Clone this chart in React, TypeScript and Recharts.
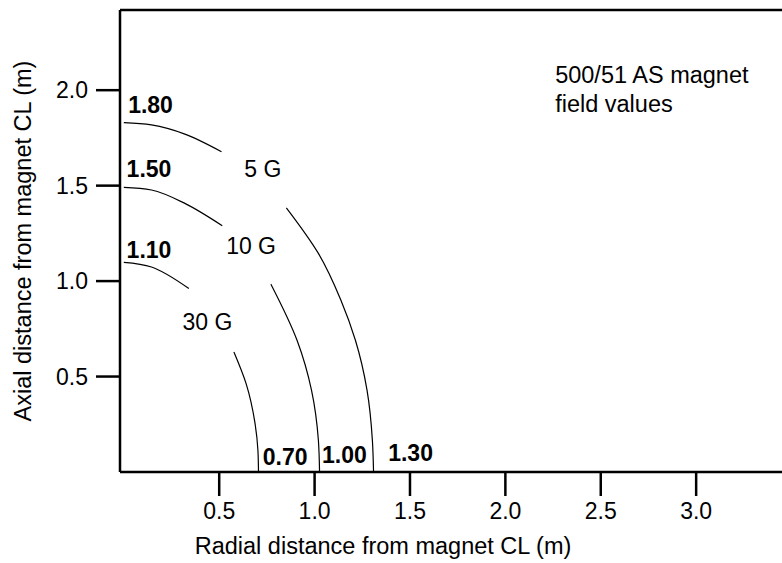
import { LineChart, Line, XAxis, YAxis, ReferenceDot, ReferenceLine } from "recharts";

// contour segments (x = radial m, y = axial m)
const g5Upper = [
  { x: 0, y: 1.83 },
  { x: 0.145, y: 1.818 },
  { x: 0.32, y: 1.77 },
  { x: 0.512, y: 1.678 },
];
const g5Lower = [
  { x: 0.852, y: 1.384 },
  { x: 1.02, y: 1.145 },
  { x: 1.138, y: 0.9 },
  { x: 1.214, y: 0.69 },
  { x: 1.275, y: 0.428 },
  { x: 1.303, y: 0.165 },
  { x: 1.309, y: 0 },
];
const g10Upper = [
  { x: 0, y: 1.491 },
  { x: 0.145, y: 1.477 },
  { x: 0.32, y: 1.407 },
  { x: 0.516, y: 1.29 },
];
const g10Lower = [
  { x: 0.771, y: 0.984 },
  { x: 0.908, y: 0.69 },
  { x: 0.984, y: 0.428 },
  { x: 1.02, y: 0.165 },
  { x: 1.026, y: 0 },
];
const g30Upper = [
  { x: 0, y: 1.098 },
  { x: 0.145, y: 1.074 },
  { x: 0.341, y: 0.961 },
];
const g30Lower = [
  { x: 0.577, y: 0.629 },
  { x: 0.641, y: 0.463 },
  { x: 0.688, y: 0.253 },
  { x: 0.703, y: 0.113 },
  { x: 0.706, y: 0 },
];

const upperSegments = [g5Upper, g10Upper, g30Upper];
const lowerSegments = [g5Lower, g10Lower, g30Lower];

const xTicks = [0.5, 1.0, 1.5, 2.0, 2.5, 3.0];
const yTicks = [0.5, 1.0, 1.5, 2.0];

// bold distance labels and field labels
const valueLabels = [
  { x: 0.14, y: 1.923, text: "1.80" },
  { x: 0.132, y: 1.589, text: "1.50" },
  { x: 0.132, y: 1.162, text: "1.10" },
  { x: 0.846, y: 0.08, text: "0.70" },
  { x: 1.156, y: 0.088, text: "1.00" },
  { x: 1.503, y: 0.1, text: "1.30" },
];
const fieldLabels = [
  { x: 0.729, y: 1.587, text: "5 G" },
  { x: 0.667, y: 1.187, text: "10 G" },
  { x: 0.438, y: 0.784, text: "30 G" },
];
const noteLines = [
  { x: 2.261, y: 2.079, text: "500/51 AS magnet" },
  { x: 2.261, y: 1.927, text: "field values" },
];

const Y_MAX = 2.42;
const font = "'Liberation Sans', Arial, Helvetica, sans-serif";
const axisStroke = { stroke: "#000", strokeWidth: 2.5 };

export default function App() {
  return (
    <div style={{ position: "absolute", left: 0, top: 0, fontFamily: font, background: "#fff" }}>
      <LineChart width={782} height={563} margin={{ top: 10, right: 0, bottom: 0, left: 0 }}>
        <XAxis
          type="number"
          dataKey="x"
          domain={[-0.02, 3.45]}
          ticks={xTicks}
          tickFormatter={(v) => Number(v).toFixed(1)}
          height={91}
          axisLine={axisStroke}
          tickLine={axisStroke}
          tickSize={24}
          tickMargin={7}
          tick={{ fill: "#000", fontSize: 23 }}
          label={{
            value: "Radial distance from magnet CL (m)",
            position: "insideBottom",
            offset: 9,
            dx: -68,
            fill: "#000",
            fontSize: 23.5,
          }}
        />
        <YAxis
          type="number"
          dataKey="y"
          domain={[0, Y_MAX]}
          ticks={yTicks}
          tickFormatter={(v) => Number(v).toFixed(1)}
          width={120}
          axisLine={axisStroke}
          tickLine={axisStroke}
          tickSize={24}
          tickMargin={8}
          tick={{ fill: "#000", fontSize: 23 }}
          label={{
            value: "Axial distance from magnet CL (m)",
            angle: -90,
            position: "insideLeft",
            offset: 23,
            fill: "#000",
            fontSize: 23.5,
            style: { textAnchor: "middle" },
          }}
        />
        {/* top frame line */}
        <ReferenceLine y={Y_MAX} stroke="#000" strokeWidth={2.5} />
        {upperSegments.map((seg, i) => (
          <Line
            key={"u" + i}
            data={seg}
            dataKey="y"
            type="monotoneX"
            stroke="#000"
            strokeWidth={1.2}
            dot={false}
            activeDot={false}
            isAnimationActive={false}
          />
        ))}
        {lowerSegments.map((seg, i) => (
          <Line
            key={"l" + i}
            data={seg}
            dataKey="y"
            type="monotoneY"
            stroke="#000"
            strokeWidth={1.2}
            dot={false}
            activeDot={false}
            isAnimationActive={false}
          />
        ))}
        {valueLabels.map((l) => (
          <ReferenceDot
            key={l.text}
            x={l.x}
            y={l.y}
            r={0}
            stroke="none"
            label={{ value: l.text, position: "center", fill: "#000", fontSize: 23, fontWeight: "bold" }}
          />
        ))}
        {fieldLabels.map((l) => (
          <ReferenceDot
            key={l.text}
            x={l.x}
            y={l.y}
            r={0}
            stroke="none"
            label={{ value: l.text, position: "center", fill: "#000", fontSize: 23 }}
          />
        ))}
        {noteLines.map((l) => (
          <ReferenceDot
            key={l.text}
            x={l.x}
            y={l.y}
            r={0}
            stroke="none"
            label={{ value: l.text, position: "right", offset: 0, fill: "#000", fontSize: 23.5 }}
          />
        ))}
      </LineChart>
    </div>
  );
}
